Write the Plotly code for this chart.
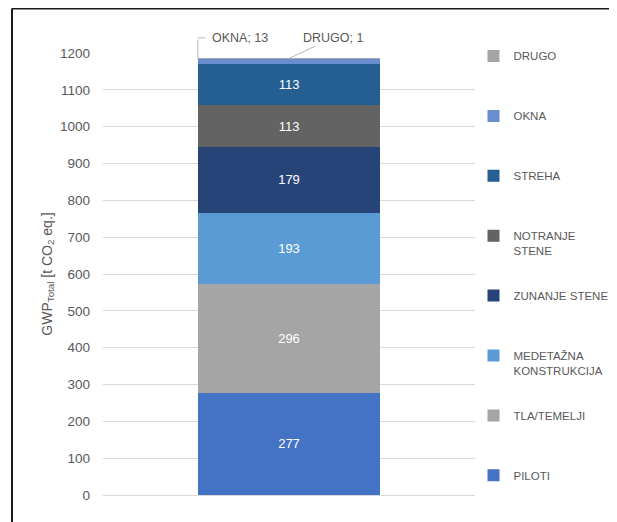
import plotly.graph_objects as go

# ---- data ----
categories = ["Skupaj"]
series_names = ["PILOTI", "TLA/TEMELJI", "MEDETAŽNA KONSTRUKCIJA", "ZUNANJE STENE",
                "NOTRANJE STENE", "STREHA", "OKNA", "DRUGO"]
legend_labels = ["PILOTI<br> ", "TLA/TEMELJI<br> ", "MEDETAŽNA<br>KONSTRUKCIJA", "ZUNANJE STENE<br> ",
                 "NOTRANJE<br>STENE", "STREHA<br> ", "OKNA<br> ", "DRUGO<br> "]
series_values = [277, 296, 193, 179, 113, 113, 13, 1]
inside_label = [True, True, True, True, True, True, False, False]
y_ticks = [0, 100, 200, 300, 400, 500, 600, 700, 800, 900, 1000, 1100, 1200]

colors = ["#4472C4", "#A5A5A5", "#5B9BD5", "#264478", "#636363", "#255E91", "#698ED0", "#A5A5A5"]

GRAY = "#595959"
FONT = "Liberation Sans"
BAR_W = 0.49

# page body has an 8px margin: figure is drawn 8px right and down
W, H = 609, 514
L, T = 95, 45
PW, PH = 372, 442

fig = go.Figure()
n = len(series_values)
for i, (name, lab, v) in enumerate(zip(series_names, legend_labels, series_values)):
    fig.add_trace(go.Bar(
        x=[0], y=[v], name=lab, width=BAR_W,
        marker=dict(color=colors[i], line=dict(width=0)),
        text=[str(v)] if inside_label[i] else [""],
        textposition="inside", insidetextanchor="middle",
        textfont=dict(color="white", size=13, family=FONT),
        legendgroup=name, legendrank=n - i, hoverinfo="name+y",
    ))

cum = []
s = 0
for v in series_values:
    s += v
    cum.append(s)
okna_top = cum[6]
drugo_top = cum[7]

LEAD = "#A6A6A6"
ann = []
# OKNA leader (elbow)
ann.append(dict(x=-BAR_W / 2, y=okna_top, xref="x", yref="y", text="", showarrow=True,
                arrowhead=0, arrowwidth=0.8, arrowcolor=LEAD, ax=0, ay=-21, standoff=0))
ann.append(dict(x=-BAR_W / 2, y=okna_top, xref="x", yref="y", yshift=21, text="", showarrow=True,
                arrowhead=0, arrowwidth=0.8, arrowcolor=LEAD, ax=9, ay=0, standoff=0))
ann.append(dict(x=-BAR_W / 2, y=okna_top, xref="x", yref="y", yshift=21, xshift=12,
                xanchor="left", yanchor="middle", text=f"{series_names[6]}; {series_values[6]}",
                showarrow=False, font=dict(size=12.5, color=GRAY, family=FONT)))
# DRUGO leader
ann.append(dict(x=0, y=drugo_top, xref="x", yref="y", text=f"{series_names[7]}; {series_values[7]}",
                showarrow=True, arrowhead=0, arrowwidth=0.8, arrowcolor=LEAD,
                ax=44, ay=-21, standoff=0, font=dict(size=12.5, color=GRAY, family=FONT)))

# outer frame (left and top edges)
fx = (4 - L) / PW
fy = (T + PH - 0.5) / PH
shapes = [
    dict(type="line", xref="paper", yref="paper", x0=fx, x1=fx, y0=-0.2, y1=fy,
         line=dict(color="#1a1a1a", width=2)),
    dict(type="line", xref="paper", yref="paper", x0=fx, x1=1.6, y0=fy, y1=fy,
         line=dict(color="#1a1a1a", width=2)),
]

fig.update_layout(
    barmode="stack",
    width=W, height=H,
    margin=dict(l=L, r=W - L - PW, t=T, b=H - T - PH, autoexpand=False),
    paper_bgcolor="white", plot_bgcolor="white",
    font=dict(family=FONT, color=GRAY),
    showlegend=True,
    legend=dict(traceorder="grouped", tracegroupgap=27, valign="top",
                x=(465.5 - L) / PW, xanchor="left",
                yref="container", y=1 - 34 / H, yanchor="top", maxheight=600,
                font=dict(size=11.5, color=GRAY, family=FONT),
                itemclick=False, itemdoubleclick=False, bgcolor="rgba(0,0,0,0)"),
    xaxis=dict(range=[-0.5, 0.5], showticklabels=False, showgrid=False, zeroline=False,
               showline=False, fixedrange=True),
    yaxis=dict(range=[0, 1200], tickvals=y_ticks, showgrid=True, gridcolor="#D9D9D9", gridwidth=1,
               zeroline=True, zerolinecolor="#D9D9D9", zerolinewidth=1, showline=False,
               ticks="", ticklabelstandoff=12,
               tickfont=dict(size=13.5, color=GRAY, family=FONT),
               title=dict(text="GWP<sub>Total</sub> [t CO<sub>2</sub> eq.]", standoff=4,
                          font=dict(size=14, color=GRAY, family=FONT)),
               fixedrange=True),
    annotations=ann,
    shapes=shapes,
)

fig.write_html("out.html")
